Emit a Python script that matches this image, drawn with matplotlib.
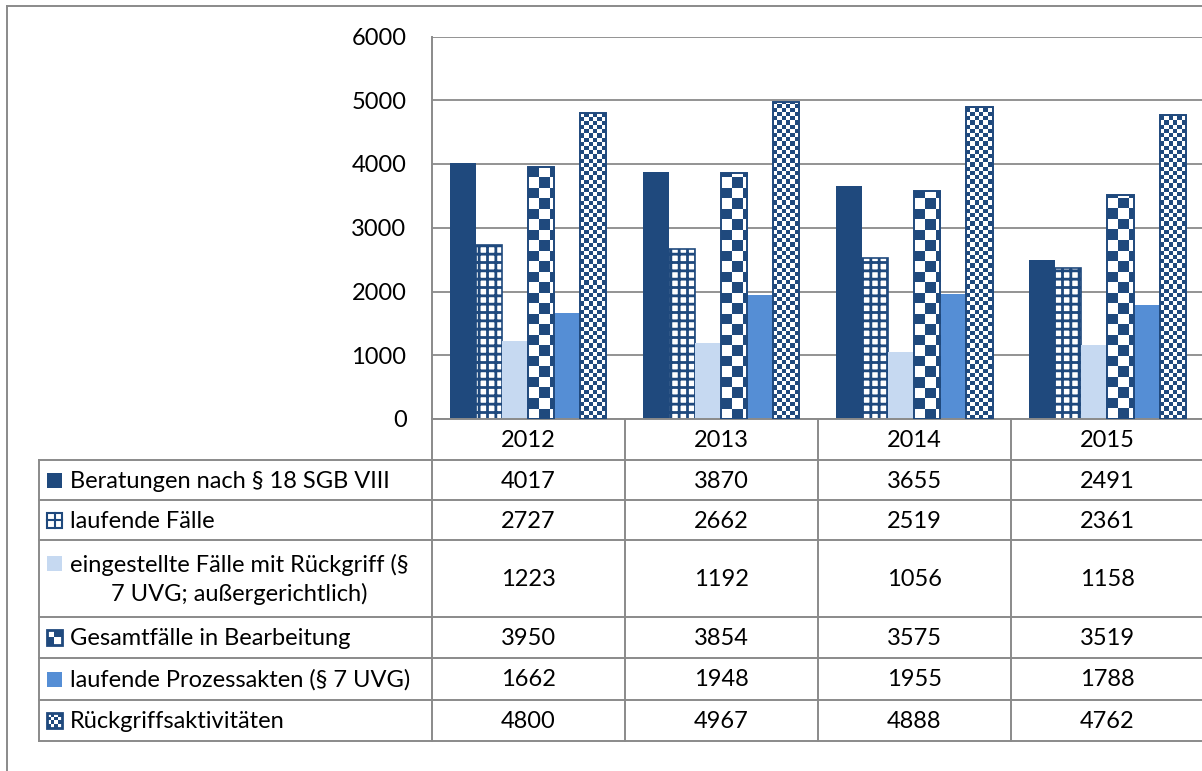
import numpy as np
import matplotlib.pyplot as plt
from matplotlib.colors import ListedColormap
from matplotlib.patches import Rectangle

plt.rcParams['font.family'] = ['Lato', 'DejaVu Sans']
plt.rcParams['hatch.linewidth'] = 2.0

years = ['2012', '2013', '2014', '2015']
series_names = [
    'Beratungen nach § 18 SGB VIII',
    'laufende Fälle',
    'eingestellte Fälle mit Rückgriff (§\n7 UVG; außergerichtlich)',
    'Gesamtfälle in Bearbeitung',
    'laufende Prozessakten (§ 7 UVG)',
    'Rückgriffsaktivitäten',
]
beratungen = [4017, 3870, 3655, 2491]
laufende_faelle = [2727, 2662, 2519, 2361]
eingestellte_faelle = [1223, 1192, 1056, 1158]
gesamtfaelle = [3950, 3854, 3575, 3519]
prozessakten = [1662, 1948, 1955, 1788]
rueckgriffe = [4800, 4967, 4888, 4762]
series_values = [beratungen, laufende_faelle, eingestellte_faelle,
                 gesamtfaelle, prozessakten, rueckgriffe]

dark = '#1F497D'
light = '#C6D9F1'
mid = '#558ED5'
gray = '#8A8A8A'
fs = 17
# fill style per series: solid colour, grid hatch, or checkerboard cell size in px
styles = [('solid', dark), ('grid', dark), ('solid', light),
          ('checker', 10.5), ('solid', mid), ('checker', 4.2)]

W, H = 1202, 771
fig = plt.figure(figsize=(W / 100, H / 100), dpi=100)

# table / frame layer in pixel coordinates (y downwards)
tb = fig.add_axes([0, 0, 1, 1])
tb.set_autoscale_on(False)
tb.set_xlim(0, W)
tb.set_ylim(H, 0)
tb.axis('off')

# plot area
px_left, px_right, px_top, px_bottom = 431.5, 1204.0, 36.5, 419.0
ax = fig.add_axes([px_left / W, 1 - px_bottom / H,
                   (px_right - px_left) / W, (px_bottom - px_top) / H])
ax.set_xlim(-0.5, len(years) - 0.5)
ax.set_ylim(0, 6000)
ux = len(years) / (px_right - px_left)      # data units per pixel, x
uy = 6000 / (px_bottom - px_top)             # data units per pixel, y

x = np.arange(len(years))
bw = 0.135


def checker_fill(bar, cell, color):
    x0, w, h = bar.get_x(), bar.get_width(), bar.get_height()
    cols = int(np.ceil(w / ux / cell)) + 1
    rows = int(np.ceil(h / uy / cell)) + 1
    board = np.add.outer(np.arange(rows), np.arange(cols)) % 2
    im = ax.imshow(board, cmap=ListedColormap(['white', color]), origin='lower',
                   extent=(x0, x0 + cols * cell * ux, 0, rows * cell * uy),
                   aspect='auto', interpolation='nearest', zorder=2.5)
    im.set_clip_path(bar)


for k, (vals, (kind, arg)) in enumerate(zip(series_values, styles)):
    pos = x + (k - 2.5) * bw
    if kind == 'solid':
        ax.bar(pos, vals, bw, color=arg, zorder=2)
    elif kind == 'grid':
        ax.bar(pos, vals, bw, facecolor='white', edgecolor=arg,
               hatch='++', linewidth=1.2, zorder=2)
    else:
        bars = ax.bar(pos, vals, bw, facecolor='white', edgecolor='none', zorder=2)
        for b in bars:
            checker_fill(b, arg, dark)
        ax.bar(pos, vals, bw, fill=False, edgecolor=dark, linewidth=1.4, zorder=3)

ax.set_xlim(-0.5, len(years) - 0.5)
ax.set_ylim(0, 6000)
ax.set_yticks(range(0, 6001, 1000))
ax.set_xticks([])
ax.tick_params(axis='y', length=0, pad=18, labelsize=fs)
ax.grid(axis='y', color=gray, linewidth=1.3)
ax.set_axisbelow(True)
for side in ['top', 'right']:
    ax.spines[side].set_visible(False)
for side in ['left', 'bottom']:
    ax.spines[side].set_color(gray)
    ax.spines[side].set_linewidth(1.4)

# outer chart frame
tb.plot([7, 7], [6, H], color=gray, lw=1.4)
tb.plot([7, W], [6, 6], color=gray, lw=1.4)

# data table under the plot
col_w = (px_right - px_left) / len(years)
col_edges = [px_left + i * col_w for i in range(len(years) + 1)]
row_edges = [419, 460, 500, 540, 617, 658, 700, 741]
tab_left = 39

for cx in col_edges:
    tb.plot([cx, cx], [row_edges[0], row_edges[-1]], color=gray, lw=1.4)
tb.plot([tab_left, tab_left], [row_edges[1], row_edges[-1]], color=gray, lw=1.4)
for ry in row_edges[1:]:
    tb.plot([tab_left, W], [ry, ry], color=gray, lw=1.4)

for i, yr in enumerate(years):
    tb.text(col_edges[i] + col_w / 2, (row_edges[0] + row_edges[1]) / 2 + 1, yr,
            ha='center', va='center', fontsize=fs)

key = 15
for k, (name, vals, (kind, arg)) in enumerate(zip(series_names, series_values, styles)):
    top, bot = row_edges[k + 1], row_edges[k + 2]
    yc = (top + bot) / 2
    for i, v in enumerate(vals):
        tb.text(col_edges[i] + col_w / 2, yc + 1, str(v),
                ha='center', va='center', fontsize=fs)
    tb.text(70, yc + 1, name, ha='left', va='center', fontsize=fs,
            multialignment='center', linespacing=1.4)
    # legend key, aligned with the first text line
    ky = yc - 7.5 if '\n' not in name else yc - 23
    if kind == 'solid':
        tb.add_patch(Rectangle((47, ky), key, key, facecolor=arg, edgecolor='none'))
    elif kind == 'grid':
        tb.add_patch(Rectangle((47, ky), key, key, facecolor='white', edgecolor=dark, lw=1.5))
        tb.plot([47 + key / 2] * 2, [ky, ky + key], color=dark, lw=1.5)
        tb.plot([47, 47 + key], [ky + key / 2] * 2, color=dark, lw=1.5)
    else:
        n = 2 if arg > 6 else 4
        board = np.add.outer(np.arange(n), np.arange(n)) % 2
        tb.imshow(board, cmap=ListedColormap(['white', dark]), origin='upper',
                  extent=(47, 47 + key, ky + key, ky), aspect='auto',
                  interpolation='nearest')
        tb.add_patch(Rectangle((47, ky), key, key, fill=False, edgecolor=dark, lw=2))

tb.set_xlim(0, W)
tb.set_ylim(H, 0)

fig.savefig('out.png', dpi=100, facecolor='white')
